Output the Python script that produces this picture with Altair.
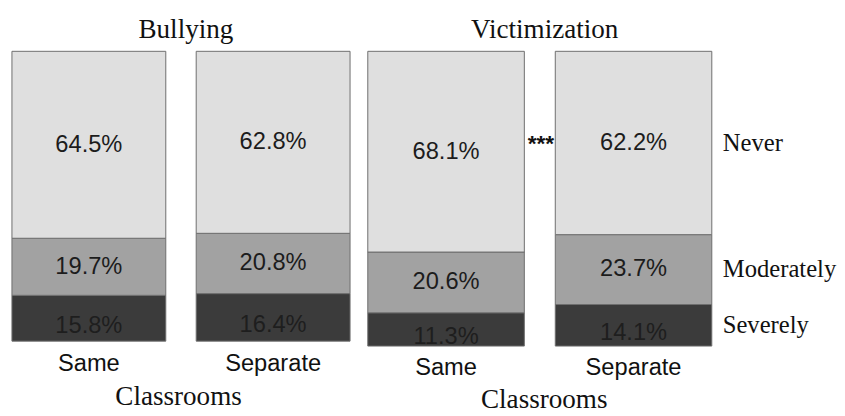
import altair as alt
import pandas as pd

classrooms = ["Same", "Separate"]
levels = ["Severely", "Moderately", "Never"]  # bottom to top
level_colors = ["#3b3b3b", "#a2a2a2", "#dfdfdf"]

bullying_severely = [15.8, 16.4]
bullying_moderately = [19.7, 20.8]
bullying_never = [64.5, 62.8]

victim_severely = [11.3, 14.1]
victim_moderately = [20.6, 23.7]
victim_never = [68.1, 62.2]

victim_significance = "***"


def build(sev, mod, nev):
    rows = []
    for i, c in enumerate(classrooms):
        base = 0.0
        for lvl, vals in zip(levels, [sev, mod, nev]):
            v = vals[i]
            rows.append(dict(classroom=c, level=lvl, value=v, y0=base, y1=base + v,
                             mid=base + v / 2, label=f"{v:.1f}%"))
            base += v
    return pd.DataFrame(rows)


yscale = alt.Scale(domain=[0, 100], nice=False, zero=True)


def panel(df, title, w, h, label_pad, title_pad, title_x, legend=False, sig=None):
    x = alt.X("classroom:N", sort=classrooms,
              scale=alt.Scale(paddingInner=0.165, paddingOuter=0),
              axis=alt.Axis(title="Classrooms", labelAngle=0, ticks=False, domain=False,
                            labelFont="Liberation Sans", labelFontSize=24,
                            labelColor="#111", labelPadding=label_pad,
                            titleFont="Liberation Serif", titleFontSize=27.5,
                            titleFontWeight="normal", titleColor="#111", titlePadding=title_pad,
                            titleX=title_x, titleAlign="center"))
    base = alt.Chart(df)
    bars = base.mark_bar(stroke="#6e6e6e", strokeWidth=1).encode(
        y=alt.Y("y0:Q", scale=yscale, axis=None), y2="y1:Q",
        color=alt.Color("level:N", scale=alt.Scale(domain=levels, range=level_colors), legend=None))
    text_upper = base.transform_filter(alt.datum.level != "Severely").mark_text(
        font="Liberation Sans", fontSize=24, color="#1c1c1c", baseline="middle").encode(
        y=alt.Y("mid:Q", scale=yscale), text="label:N")
    text_lower = base.transform_filter(alt.datum.level == "Severely").mark_text(
        font="Liberation Sans", fontSize=24, color="#1e1e1e", baseline="middle", dy=8).encode(
        y=alt.Y("mid:Q", scale=yscale), text="label:N")
    layers = [bars, text_upper, text_lower]
    if legend:
        leg = base.transform_filter(alt.datum.classroom == "Separate").mark_text(
            font="Liberation Serif", fontSize=25, color="#111", align="left",
            baseline="middle", dx=90.5).encode(y=alt.Y("mid:Q", scale=yscale), text="level:N")
        layers.append(leg)
    if sig:
        st = base.transform_filter(
            (alt.datum.classroom == "Separate") & (alt.datum.level == "Never")
        ).mark_text(font="Liberation Sans", fontSize=23, fontWeight="bold", color="#111",
                    align="center", baseline="middle", dx=-94, dy=1, text=sig).encode(
            y=alt.Y("mid:Q", scale=yscale))
        layers.append(st)
    return alt.layer(*layers).encode(x=x).properties(
        width=w, height=h,
        title=alt.TitleParams(title, font="Liberation Serif", fontSize=27.5, fontWeight="normal",
                              color="#111", anchor="middle", offset=8, dx=5))


bully = panel(build(bullying_severely, bullying_moderately, bullying_never), "Bullying",
              343, 294, label_pad=11, title_pad=7, title_x=168.5)
victim = panel(build(victim_severely, victim_moderately, victim_never), "Victimization",
               349, 299, label_pad=10, title_pad=6, title_x=178.5,
               legend=True, sig=victim_significance)

chart = alt.hconcat(bully, victim, spacing=16).properties(
    padding={"left": 3, "top": 5, "right": 0, "bottom": 0},
    background="white",
).configure_view(strokeWidth=0)

chart.save("out.html", embed_options={"renderer": "svg", "actions": False})
